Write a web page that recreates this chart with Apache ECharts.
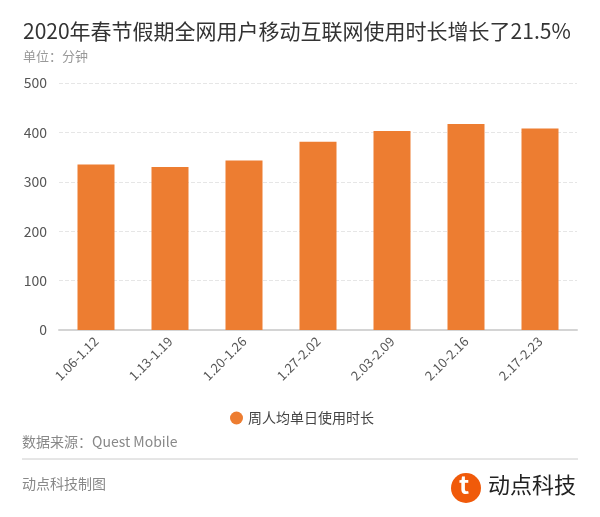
<!DOCTYPE html>
<html>
<head>
<meta charset="utf-8">
<script src="https://cdn.jsdelivr.net/npm/echarts@6/dist/echarts.min.js"></script>
<style>
  html, body { margin: 0; padding: 0; background: #fff; }
  #chart { width: 600px; height: 517px; }
</style>
</head>
<body>
<div id="chart"></div>
<script>
const weeks = ['1.06-1.12', '1.13-1.19', '1.20-1.26', '1.27-2.02', '2.03-2.09', '2.10-2.16', '2.17-2.23'];
const dailyMinutes = [335, 330, 343, 381, 403, 417, 408];
const seriesName = '周人均单日使用时长';

const font = '"Noto Sans CJK SC", "Noto Sans", sans-serif';
const myChart = echarts.init(document.getElementById('chart'));

const option = {
    textStyle: { fontFamily: font },
    title: {
        text: '2020年春节假期全网用户移动互联网使用时长增长了21.5%',
        subtext: '单位：分钟',
        left: 18,
        top: 16,
        itemGap: 8,
        textStyle: { fontSize: 21, fontWeight: 'normal', color: '#333' },
        subtextStyle: { fontSize: 13, color: '#999' }
    },
    legend: {
        data: [seriesName],
        left: 225,
        top: 406,
        icon: 'circle',
        itemWidth: 13,
        itemHeight: 13,
        itemGap: 6,
        textStyle: { fontSize: 14, color: '#444' }
    },
    grid: {
        left: 59,
        right: 23,
        top: 83,
        bottom: 187
    },
    xAxis: {
        type: 'category',
        data: weeks,
        axisLine: { lineStyle: { color: '#d4d4d4', width: 2 } },
        axisTick: { alignWithLabel: true, length: 4, lineStyle: { color: '#ccc' } },
        axisLabel: { rotate: 45, color: '#555', fontSize: 13, margin: 9 }
    },
    yAxis: {
        type: 'value',
        min: 0,
        max: 500,
        interval: 100,
        axisLine: { show: false },
        axisTick: { show: false },
        axisLabel: { color: '#555', fontSize: 14, margin: 12 },
        splitLine: { lineStyle: { color: '#e6e6e6', type: 'dashed' } }
    },
    series: [
        {
            name: seriesName,
            type: 'bar',
            barWidth: '50%',
            data: dailyMinutes,
            itemStyle: { color: '#ED7D31' }
        }
    ],
    graphic: [
        {
            type: 'text', left: 22, top: 435,
            style: { text: '数据来源：Quest Mobile', fill: '#888', font: '14px ' + font }
        },
        {
            type: 'line', shape: { x1: 22, y1: 459, x2: 578, y2: 459 },
            style: { stroke: '#ccc', lineWidth: 1 }
        },
        {
            type: 'text', left: 22, top: 477,
            style: { text: '动点科技制图', fill: '#888', font: '14px ' + font }
        },
        {
            type: 'circle', shape: { cx: 466, cy: 488, r: 15 },
            style: { fill: '#F05A0A' }
        },
        {
            type: 'text', left: 459, top: 473,
            style: { text: 't', fill: '#fff', font: 'bold 24px ' + font }
        },
        {
            type: 'text', left: 488, top: 474,
            style: { text: '动点科技', fill: '#222', font: '22px ' + font }
        }
    ]
};

option && myChart.setOption(option);
</script>
</body>
</html>
